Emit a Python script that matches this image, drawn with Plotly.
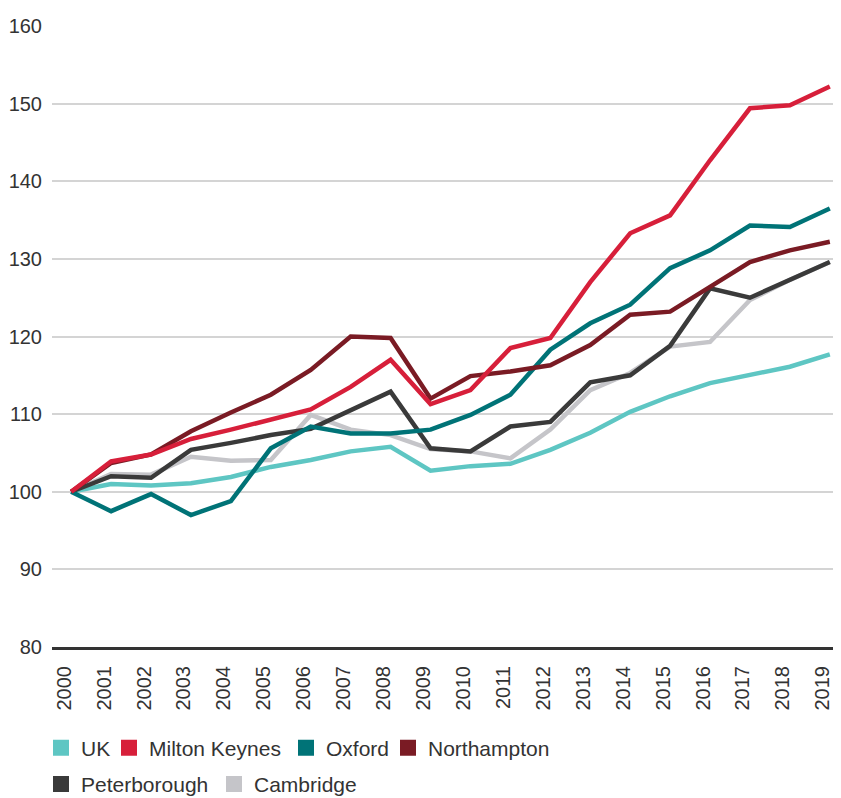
import plotly.graph_objs as go

years = list(range(2000, 2020))

uk = [100, 101.0, 100.8, 101.1, 101.9, 103.2, 104.1, 105.2, 105.8, 102.7,
      103.3, 103.6, 105.4, 107.6, 110.3, 112.3, 114.0, 115.0, 116.1, 117.7]
milton_keynes = [100, 103.9, 104.8, 106.8, 108.0, 109.3, 110.6, 113.5, 117.0, 111.3,
                 113.1, 118.5, 119.8, 127.0, 133.3, 135.6, 142.7, 149.4, 149.8, 152.2]
oxford = [100, 97.5, 99.7, 97.0, 98.8, 105.6, 108.4, 107.5, 107.5, 108.0,
          109.9, 112.5, 118.3, 121.7, 124.1, 128.8, 131.1, 134.3, 134.1, 136.5]
northampton = [100, 103.7, 104.8, 107.8, 110.2, 112.5, 115.7, 120.0, 119.8, 112.0,
               114.9, 115.5, 116.3, 118.9, 122.8, 123.2, 126.4, 129.6, 131.1, 132.2]
peterborough = [100, 102.0, 101.8, 105.4, 106.3, 107.3, 108.1, 110.5, 112.9, 105.6,
                105.2, 108.4, 109.0, 114.1, 115.0, 118.8, 126.2, 125.0, 127.3, 129.6]
cambridge = [100, 102.3, 102.2, 104.5, 104.0, 104.1, 109.9, 108.0, 107.3, 105.5,
             105.2, 104.3, 108.0, 113.1, 115.3, 118.7, 119.3, 124.7, 127.3, 129.6]

colors = {
    "UK": "#5ec6c3",
    "Milton Keynes": "#d71f3a",
    "Oxford": "#007377",
    "Northampton": "#7a1b24",
    "Peterborough": "#3a3a3a",
    "Cambridge": "#c5c5c9",
}

series = {
    "UK": uk,
    "Milton Keynes": milton_keynes,
    "Oxford": oxford,
    "Northampton": northampton,
    "Peterborough": peterborough,
    "Cambridge": cambridge,
}

# drawing order, bottom first
draw_order = ["Cambridge", "UK", "Peterborough", "Oxford", "Northampton", "Milton Keynes"]
legend_order = ["UK", "Milton Keynes", "Oxford", "Northampton", "Peterborough", "Cambridge"]

# one legend per entry so each square sits where it does in the original
# (pixel x of the square's left edge, row y in paper coords)
legend_pos = {
    "UK": (53, -0.163),
    "Milton Keynes": (121, -0.163),
    "Oxford": (298, -0.163),
    "Northampton": (400, -0.163),
    "Peterborough": (53, -0.221),
    "Cambridge": (226, -0.221),
}
plot_left, plot_width, square_offset = 52, 789, 12

font = "Liberation Sans, Arial, sans-serif"

fig = go.Figure()
for name in draw_order:
    fig.add_trace(go.Scatter(x=years, y=series[name], mode="lines", name=name,
                             line=dict(color=colors[name], width=4.5),
                             showlegend=False))

legends = {}
for i, name in enumerate(legend_order):
    key = "legend" if i == 0 else "legend%d" % (i + 1)
    fig.add_trace(go.Scatter(x=[None], y=[None], mode="markers", name=name,
                             marker=dict(symbol="square", size=16, color=colors[name]),
                             legend=key))
    px_x, row_y = legend_pos[name]
    legends[key] = dict(x=(px_x - square_offset - plot_left) / plot_width, y=row_y,
                        orientation="h", xanchor="left", yanchor="middle",
                        font=dict(family=font, size=21, color="#333333"),
                        bgcolor="rgba(0,0,0,0)", itemwidth=30)

# page body has an 8px margin, so the figure is 8px smaller than the window
fig.update_layout(
    width=833, height=790,
    margin=dict(l=44, r=0, t=18, b=151, autoexpand=False),
    plot_bgcolor="white", paper_bgcolor="white",
    font=dict(family=font, size=20, color="#333333"),
    xaxis=dict(range=[1999.52, 2019.28], tickvals=years, ticktext=[str(y) for y in years],
               tickangle=-90, showgrid=False, zeroline=False,
               showline=True, linecolor="#333333", linewidth=3,
               ticklabelstandoff=8, ticklabelshift=-7,
               tickfont=dict(family=font, size=20, color="#333333")),
    yaxis=dict(range=[80, 160], dtick=10, showgrid=True, gridcolor="#d4d4d4", gridwidth=2,
               zeroline=False, showline=False, ticklabelstandoff=9,
               tickfont=dict(family=font, size=20, color="#333333")),
    **legends,
)

fig.write_html("out.html")
